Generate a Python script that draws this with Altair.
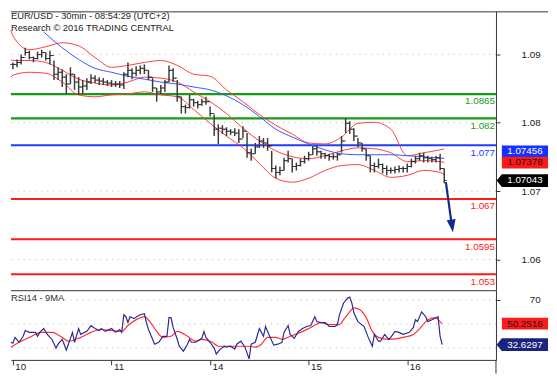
import altair as alt
import pandas as pd

# ---------------- x axis : half-hour bar index ----------------
day_labels = ["10", "11", "14", "15", "16"]
day_bar = [0, 48, 96, 144, 192]
x_domain = [-0.96, 235.2]

# ---------------- price bars (sampled hourly) ----------------
bar_n = list(range(0, 211, 2))
bar_high = [1.09240, 1.09295, 1.09386, 1.09514, 1.09459, 1.09350, 1.09441, 1.09477, 1.09423, 1.09459,
            1.09276, 1.09149, 1.09112, 1.09021, 1.09149, 1.09021, 1.08966, 1.08911, 1.08948, 1.09021,
            1.09003, 1.08966, 1.08948, 1.08911, 1.08911, 1.08893, 1.08893, 1.09057, 1.09240, 1.09130,
            1.09167, 1.09185, 1.09203, 1.09094, 1.08948, 1.08765, 1.08820, 1.08911, 1.09185, 1.09130,
            1.08911, 1.08601, 1.08454, 1.08637, 1.08564, 1.08528, 1.08564, 1.08601, 1.08418, 1.08272,
            1.08089, 1.08071, 1.08034, 1.07998, 1.08016, 1.07998, 1.08053, 1.07925, 1.07633, 1.07742,
            1.07870, 1.07834, 1.07834, 1.07596, 1.07322, 1.07304, 1.07468, 1.07596, 1.07450, 1.07377,
            1.07450, 1.07505, 1.07578, 1.07687, 1.07687, 1.07596, 1.07560, 1.07541, 1.07541, 1.07560,
            1.07870, 1.08199, 1.08144, 1.08016, 1.07834, 1.07742, 1.07633, 1.07505, 1.07377, 1.07450,
            1.07359, 1.07322, 1.07286, 1.07304, 1.07322, 1.07304, 1.07359, 1.07450, 1.07505, 1.07560,
            1.07560, 1.07505, 1.07486, 1.07505, 1.07541, 1.07267]
bar_low = [1.09112, 1.09149, 1.09203, 1.09368, 1.09295, 1.09240, 1.09295, 1.09331, 1.09276, 1.09203,
           1.08911, 1.08911, 1.08783, 1.08655, 1.08838, 1.08729, 1.08637, 1.08655, 1.08729, 1.08838,
           1.08856, 1.08820, 1.08820, 1.08802, 1.08783, 1.08783, 1.08765, 1.08747, 1.08966, 1.08929,
           1.08984, 1.09021, 1.09021, 1.08911, 1.08692, 1.08509, 1.08655, 1.08692, 1.08875, 1.08875,
           1.08509, 1.08290, 1.08290, 1.08381, 1.08418, 1.08381, 1.08436, 1.08454, 1.08235, 1.07870,
           1.07724, 1.07907, 1.07870, 1.07888, 1.07870, 1.07742, 1.07834, 1.07468, 1.07413, 1.07541,
           1.07651, 1.07651, 1.07596, 1.07194, 1.07085, 1.07139, 1.07231, 1.07377, 1.07194, 1.07231,
           1.07304, 1.07359, 1.07413, 1.07523, 1.07505, 1.07450, 1.07450, 1.07413, 1.07432, 1.07413,
           1.07560, 1.07925, 1.07907, 1.07779, 1.07669, 1.07578, 1.07413, 1.07194, 1.07194, 1.07267,
           1.07176, 1.07139, 1.07176, 1.07176, 1.07194, 1.07194, 1.07194, 1.07286, 1.07359, 1.07413,
           1.07377, 1.07377, 1.07377, 1.07377, 1.07231, 1.06993]
bar_close = [1.09203, 1.09240, 1.09331, 1.09423, 1.09331, 1.09313, 1.09386, 1.09423, 1.09313, 1.09368,
             1.09021, 1.09057, 1.08966, 1.08838, 1.09021, 1.08875, 1.08783, 1.08802, 1.08875, 1.08948,
             1.08911, 1.08893, 1.08875, 1.08856, 1.08838, 1.08838, 1.08820, 1.09021, 1.09094, 1.09039,
             1.09094, 1.09130, 1.09094, 1.08966, 1.08765, 1.08692, 1.08765, 1.08875, 1.09094, 1.08948,
             1.08601, 1.08418, 1.08400, 1.08546, 1.08491, 1.08454, 1.08509, 1.08509, 1.08290, 1.07998,
             1.08016, 1.07998, 1.07961, 1.07943, 1.07925, 1.07815, 1.07961, 1.07560, 1.07541, 1.07669,
             1.07779, 1.07742, 1.07687, 1.07267, 1.07194, 1.07231, 1.07413, 1.07450, 1.07304, 1.07322,
             1.07395, 1.07450, 1.07523, 1.07633, 1.07578, 1.07541, 1.07505, 1.07486, 1.07486, 1.07523,
             1.07779, 1.08108, 1.07998, 1.07870, 1.07742, 1.07633, 1.07505, 1.07322, 1.07304, 1.07340,
             1.07267, 1.07231, 1.07231, 1.07249, 1.07267, 1.07267, 1.07304, 1.07395, 1.07450, 1.07505,
             1.07468, 1.07450, 1.07432, 1.07468, 1.07267, 1.07043]

# ---------------- Bollinger bands and moving average ----------------
band_n = [-1, 0, 8, 16, 24, 32, 40, 48, 56, 64, 72, 80, 88, 96, 104, 112, 120, 128, 136, 144,
          152, 160, 168, 176, 184, 192, 200, 208, 210]
bb_upper = [1.09843, 1.09733, 1.09477, 1.09532, 1.09605, 1.09550, 1.09331, 1.09149, 1.09185, 1.09240,
            1.09276, 1.09185, 1.09021, 1.08984, 1.08729, 1.08509, 1.08272, 1.08071, 1.07907, 1.07742,
            1.07724, 1.07852, 1.08108, 1.08126, 1.07998, 1.07505, 1.07560, 1.07614, 1.07633]
bb_middle = [1.09295, 1.09276, 1.09276, 1.09240, 1.09094, 1.08929, 1.08856, 1.08820, 1.08875, 1.08966,
             1.08948, 1.08875, 1.08692, 1.08509, 1.08290, 1.08016, 1.07779, 1.07596, 1.07486, 1.07450,
             1.07505, 1.07596, 1.07651, 1.07633, 1.07560, 1.07395, 1.07413, 1.07395, 1.07377]
bb_lower = [1.08966, 1.09003, 1.09057, 1.09039, 1.08875, 1.08637, 1.08601, 1.08637, 1.08655, 1.08692,
            1.08637, 1.08601, 1.08363, 1.08108, 1.07870, 1.07651, 1.07359, 1.07085, 1.07012, 1.07085,
            1.07231, 1.07322, 1.07340, 1.07231, 1.07103, 1.07139, 1.07231, 1.07194, 1.07158]
ma_n = [15, 24, 32, 40, 48, 56, 64, 72, 80, 88, 96, 104, 112, 120, 128, 136, 144, 152, 160, 168,
        176, 184, 192, 200, 208, 210]
ma_blue = [1.09806, 1.09514, 1.09295, 1.09130, 1.09057, 1.08984, 1.08929, 1.08875, 1.08838, 1.08783,
           1.08729, 1.08619, 1.08454, 1.08235, 1.07998, 1.07852, 1.07724, 1.07614, 1.07541, 1.07523,
           1.07523, 1.07523, 1.07505, 1.07486, 1.07459, 1.07456]

# ---------------- support / resistance levels ----------------
level_price = [1.0865, 1.082, 1.077, 1.067, 1.0595, 1.053]
level_text = ["1.0865", "1.082", "1.077", "1.067", "1.0595", "1.053"]
level_kind = ["res", "res", "pivot", "sup", "sup", "sup"]

# ---------------- forecast arrow ----------------
arrow_n = [210.8, 213.7]
arrow_price = [1.07012, 1.06208]
arrow_head_n = [213.8]
arrow_head_price = [1.06199]

# ---------------- last value tags ----------------
tag_price = [1.07456, 1.07378, 1.07043]
tag_text = ["1.07456", "1.07378", "1.07043"]

# ---------------- axes ----------------
price_ticks = [1.06, 1.07, 1.08, 1.09]
axis_domain = [1.05551, 1.09627]
price_domain = [1.05003, 1.10190]

# ---------------- RSI ----------------
rsi_n = [-1, 0, 1, 3, 5, 6, 8, 11, 12, 13, 15, 16, 18, 19, 21, 22, 24, 26, 27, 29,
         30, 32, 33, 36, 38, 40, 42, 43, 45, 48, 50, 52, 53, 54, 55, 56, 57, 59, 61, 62,
         64, 65, 66, 68, 69, 71, 73, 74, 75, 76, 77, 78, 80, 81, 83, 85, 86, 87, 89, 92,
         93, 94, 96, 98, 99, 101, 103, 104, 106, 108, 109, 111, 113, 115, 116, 118, 120, 122, 123, 125,
         127, 129, 131, 132, 134, 135, 137, 139, 141, 143, 145, 147, 148, 150, 152, 154, 155, 157, 158, 159,
         161, 163, 164, 165, 166, 168, 171, 173, 175, 176, 178, 179, 181, 183, 184, 186, 188, 190, 193, 195,
         196, 197, 199, 201, 202, 204, 206, 207, 208, 209]
rsi_val = [34.6, 33.8, 38.7, 34.6, 39.6, 44.5, 42.9, 42.9, 39.6, 42.9, 46.1, 42.9, 38.7, 37.1, 29.7, 33.0, 37.1, 28.1, 33.0, 42.9,
           34.6, 46.1, 41.2, 43.7, 48.6, 46.1, 44.5, 46.1, 43.7, 46.1, 42.9, 45.3, 42.9, 57.6, 56.0, 51.1, 56.0, 54.4, 56.8, 57.6,
           58.5, 51.1, 45.3, 37.1, 33.0, 34.6, 39.6, 39.6, 39.6, 55.2, 55.2, 47.0, 37.1, 31.3, 27.2, 33.0, 37.1, 34.6, 34.6, 37.9,
           43.7, 38.7, 34.6, 29.7, 24.8, 28.9, 31.3, 30.5, 31.3, 28.9, 33.0, 35.5, 30.5, 20.7, 33.0, 34.6, 46.1, 39.6, 47.8, 39.6,
           32.2, 33.0, 34.6, 42.9, 48.6, 41.2, 37.9, 43.7, 46.1, 47.8, 48.6, 56.0, 51.9, 51.1, 51.1, 47.8, 47.8, 47.8, 49.4, 57.6,
           67.5, 71.6, 72.4, 67.5, 59.3, 51.9, 47.8, 38.7, 31.3, 41.2, 35.5, 35.5, 41.2, 37.1, 38.7, 43.7, 42.9, 41.2, 42.9, 47.0,
           53.5, 51.9, 60.1, 56.0, 51.9, 53.5, 55.2, 56.0, 39.6, 32.63]
rsi_ma_n = [-1, 3, 8, 14, 19, 24, 27, 33, 38, 43, 48, 53, 56, 61, 64, 67, 70, 73, 77, 80,
            85, 89, 92, 97, 100, 105, 110, 115, 118, 121, 124, 128, 131, 135, 140, 145, 150, 154, 159, 161,
            164, 166, 169, 172, 175, 178, 183, 190, 195, 199, 202, 206, 207, 209]
rsi_ma = [30.5, 34.6, 38.7, 42.9, 42.9, 38.7, 35.5, 38.7, 42.9, 45.3, 44.5, 43.7, 48.6, 54.4, 56.0, 51.1, 43.7, 38.7, 39.6, 43.7,
          39.6, 35.5, 37.1, 34.6, 31.3, 31.3, 31.3, 31.3, 30.5, 33.0, 38.7, 38.7, 37.1, 39.6, 42.9, 47.0, 51.1, 49.4, 49.4, 53.5,
          60.1, 63.4, 61.8, 55.2, 43.7, 38.7, 37.1, 38.7, 41.2, 47.8, 53.5, 55.2, 53.5, 50.25]
rsi_grid = [30, 50, 70]
rsi_ticks = [70]
rsi_domain = [19.84, 78.18]
rsi_tag_val = [50.2516, 32.6297]
rsi_tag_text = ["50.2516", "32.6297"]

title_lines = ["EUR/USD - 30min - 08:54:29 (UTC+2)", "Research \u00a9 2016 TRADING CENTRAL"]
rsi_title = "RSI14 - 9MA"

# ---------------- styling ----------------
W = 494
H_MAIN = 284
H_RSI = 71
FONT = "Liberation Sans"
AXIS_COL = "#333333"
TAG_X = W + 29.5
RECT_PATH = "M-0.98,-0.25 L0.98,-0.25 L0.98,0.25 L-0.98,0.25 Z"
ARROW_PATH = "M-1.2,0 L-0.98,-0.27 L0.98,-0.27 L0.98,0.27 L-0.98,0.27 Z"
HEAD_PATH = "M-0.7,-1 L0.7,-1 L0,1 Z"

x_scale = alt.Scale(domain=x_domain, nice=False, zero=False)
p_scale = alt.Scale(domain=price_domain, nice=False, zero=False)
r_scale = alt.Scale(domain=rsi_domain, nice=False, zero=False)
one = pd.DataFrame({"a": [0]})

# ---------------- main panel ----------------
grid_layer = alt.Chart(pd.DataFrame({"tick": price_ticks})).mark_rule(
    color="#b5b5b5", strokeDash=[1, 5], strokeWidth=1
).encode(
    y=alt.Y("tick:Q", scale=alt.Scale(domain=axis_domain, nice=False, zero=False),
            axis=alt.Axis(orient="right", values=price_ticks, format=".2f", title=None, grid=False,
                          tickSize=4, labelPadding=41, labelAlign="right", labelFontSize=10,
                          labelColor="#222222", domainColor=AXIS_COL, tickColor=AXIS_COL,
                          labelFont=FONT, labelFlush=False))
)

lev_df = pd.DataFrame({"p": level_price, "t": level_text, "kind": level_kind})
lev_rules = alt.Chart(lev_df).mark_rule(strokeWidth=2.2).encode(
    y=alt.Y("p:Q", scale=p_scale, axis=None),
    color=alt.Color("kind:N", scale=alt.Scale(domain=["res", "pivot", "sup"],
                                              range=["#189a18", "#1f3cff", "#ff1a1a"]), legend=None),
)
lev_text = alt.Chart(lev_df).mark_text(align="right", baseline="middle", dy=7.5, fontSize=10, font=FONT).encode(
    x=alt.value(W - 1),
    y=alt.Y("p:Q", scale=p_scale, axis=None),
    text="t:N",
    color=alt.Color("kind:N", scale=alt.Scale(domain=["res", "pivot", "sup"],
                                              range=["#45a845", "#5b5bff", "#ff4a4a"]), legend=None),
)

band_df = pd.concat([
    pd.DataFrame({"n": band_n, "v": bb_upper, "band": "upper"}),
    pd.DataFrame({"n": band_n, "v": bb_middle, "band": "middle"}),
    pd.DataFrame({"n": band_n, "v": bb_lower, "band": "lower"}),
])
bands = alt.Chart(band_df).mark_line(color="#ff3b3b", strokeWidth=1, interpolate="monotone").encode(
    x=alt.X("n:Q", scale=x_scale, axis=None),
    y=alt.Y("v:Q", scale=p_scale, axis=None),
    detail="band:N",
)
ma_line = alt.Chart(pd.DataFrame({"n": ma_n, "v": ma_blue})).mark_line(
    color="#3a55ff", strokeWidth=1, interpolate="monotone"
).encode(
    x=alt.X("n:Q", scale=x_scale, axis=None),
    y=alt.Y("v:Q", scale=p_scale, axis=None),
)

bars_df = pd.DataFrame({"n": bar_n, "high": bar_high, "low": bar_low, "close": bar_close})
bars_df["open"] = bars_df["close"].shift(1).fillna(bars_df["close"])
bar_rules = alt.Chart(bars_df).mark_rule(color="#3c3c3c", strokeWidth=1.5).encode(
    x=alt.X("n:Q", scale=x_scale, axis=None),
    y=alt.Y("low:Q", scale=p_scale, axis=None),
    y2="high:Q",
)
close_ticks = alt.Chart(bars_df).mark_tick(orient="horizontal", color="#111111", size=3,
                                           thickness=1, xOffset=1.4).encode(
    x=alt.X("n:Q", scale=x_scale, axis=None),
    y=alt.Y("close:Q", scale=p_scale, axis=None),
)
open_ticks = alt.Chart(bars_df).mark_tick(orient="horizontal", color="#111111", size=3,
                                          thickness=1, xOffset=-1.4).encode(
    x=alt.X("n:Q", scale=x_scale, axis=None),
    y=alt.Y("open:Q", scale=p_scale, axis=None),
)

arrow_line = alt.Chart(pd.DataFrame({"n": arrow_n, "p": arrow_price})).mark_line(
    color="#15278a", strokeWidth=2.2
).encode(
    x=alt.X("n:Q", scale=x_scale, axis=None),
    y=alt.Y("p:Q", scale=p_scale, axis=None),
)
arrow_head = alt.Chart(pd.DataFrame({"n": arrow_head_n, "p": arrow_head_price})).mark_point(
    shape=HEAD_PATH, filled=True, size=169, angle=352, color="#15278a", opacity=1, strokeWidth=0
).encode(
    x=alt.X("n:Q", scale=x_scale, axis=None),
    y=alt.Y("p:Q", scale=p_scale, axis=None),
)

tag_fill = ["#1530ff", "#ff1a1a", "#000000"]
tag_ink = ["#ffffff", "#111111", "#ffffff"]
tag_shape = [RECT_PATH, RECT_PATH, ARROW_PATH]
tag_nudge = [-7, 0, 0]
tag_layers = []
for i in range(len(tag_price)):
    d = pd.DataFrame({"p": [tag_price[i]], "t": [tag_text[i]]})
    tag_layers.append(alt.Chart(d).mark_point(
        shape=tag_shape[i], filled=True, size=2304, color=tag_fill[i], opacity=1, strokeWidth=0,
        yOffset=tag_nudge[i]
    ).encode(x=alt.value(TAG_X), y=alt.Y("p:Q", scale=p_scale, axis=None)))
    tag_layers.append(alt.Chart(d).mark_text(
        align="center", baseline="middle", fontSize=10, font=FONT, color=tag_ink[i], yOffset=tag_nudge[i]
    ).encode(x=alt.value(TAG_X), y=alt.Y("p:Q", scale=p_scale, axis=None), text="t:N"))

top_border = alt.Chart(one).mark_rule(color=AXIS_COL, strokeWidth=1).encode(
    x=alt.value(0), x2=alt.value(547), y=alt.value(0.5)
)
title_text = alt.Chart(one).mark_text(
    align="left", baseline="top", fontSize=9.5, font=FONT, color="#222222", lineHeight=12
).encode(x=alt.value(0), y=alt.value(0), text=alt.value(title_lines))

data_layer = alt.layer(
    lev_rules, bands, ma_line, bar_rules, close_ticks, open_ticks, lev_text,
    arrow_line, arrow_head, *tag_layers, top_border, title_text
)
main = alt.layer(grid_layer, data_layer).resolve_scale(y="independent").properties(width=W, height=H_MAIN)

# ---------------- RSI panel ----------------
label_expr = " : ".join(f"datum.value == {b} ? '{t}'" for b, t in zip(day_bar, day_labels)) + " : ''"

rsi_x_axis = alt.Axis(values=day_bar, labelExpr=label_expr, title=None, grid=False, tickSize=5,
                      labelAlign="left", labelBaseline="top", labelPadding=-3, labelOffset=2,
                      labelFontSize=10, labelColor="#222222", labelFont=FONT,
                      domainColor=AXIS_COL, tickColor=AXIS_COL)
rsi_y_axis = alt.Axis(orient="right", values=rsi_ticks, title=None, grid=False, tickSize=4,
                      labelPadding=41, labelAlign="right", labelFontSize=10, labelColor="#222222",
                      domainColor=AXIS_COL, tickColor=AXIS_COL, labelFont=FONT)

rsi_grid_layer = alt.Chart(pd.DataFrame({"v": rsi_grid})).mark_rule(
    color="#b5b5b5", strokeDash=[1, 5], strokeWidth=1
).encode(y=alt.Y("v:Q", scale=r_scale, axis=rsi_y_axis))
rsi_line = alt.Chart(pd.DataFrame({"n": rsi_n, "v": rsi_val})).mark_line(
    color="#2a2a96", strokeWidth=1.2
).encode(
    x=alt.X("n:Q", scale=x_scale, axis=rsi_x_axis),
    y=alt.Y("v:Q", scale=r_scale, axis=rsi_y_axis),
)
rsi_ma_line = alt.Chart(pd.DataFrame({"n": rsi_ma_n, "v": rsi_ma})).mark_line(
    color="#ff3030", strokeWidth=1.2, interpolate="monotone"
).encode(
    x=alt.X("n:Q", scale=x_scale, axis=rsi_x_axis),
    y=alt.Y("v:Q", scale=r_scale, axis=rsi_y_axis),
)
rsi_sep = alt.Chart(one).mark_rule(color=AXIS_COL, strokeWidth=1).encode(
    x=alt.value(0), x2=alt.value(W), y=alt.value(0.5)
)
axis_tail = alt.Chart(one).mark_rule(color=AXIS_COL, strokeWidth=1).encode(
    x=alt.value(W), y=alt.value(H_RSI), y2=alt.value(H_RSI + 14)
)
rsi_label = alt.Chart(one).mark_text(
    align="left", baseline="middle", fontSize=9.5, font=FONT, color="#333333"
).encode(x=alt.value(0), y=alt.value(8), text=alt.value(rsi_title))

rsi_fill = ["#ff1a1a", "#1a237e"]
rsi_ink = ["#111111", "#ffffff"]
rsi_shape = [RECT_PATH, ARROW_PATH]
rsi_tags = []
for i in range(len(rsi_tag_val)):
    d = pd.DataFrame({"v": [rsi_tag_val[i]], "t": [rsi_tag_text[i]]})
    rsi_tags.append(alt.Chart(d).mark_point(
        shape=rsi_shape[i], filled=True, size=2304, color=rsi_fill[i], opacity=1, strokeWidth=0
    ).encode(x=alt.value(TAG_X), y=alt.Y("v:Q", scale=r_scale, axis=rsi_y_axis)))
    rsi_tags.append(alt.Chart(d).mark_text(
        align="center", baseline="middle", fontSize=10, font=FONT, color=rsi_ink[i]
    ).encode(x=alt.value(TAG_X), y=alt.Y("v:Q", scale=r_scale, axis=rsi_y_axis), text="t:N"))

rsi = alt.layer(
    rsi_grid_layer, rsi_ma_line, rsi_line, rsi_sep, axis_tail, rsi_label, *rsi_tags
).properties(width=W, height=H_RSI)

chart = alt.vconcat(main, rsi, spacing=0, bounds="flush", padding=0).configure(
    font=FONT
).configure_view(stroke=None)

chart.save("out.html", embed_options={"renderer": "svg", "actions": False})
